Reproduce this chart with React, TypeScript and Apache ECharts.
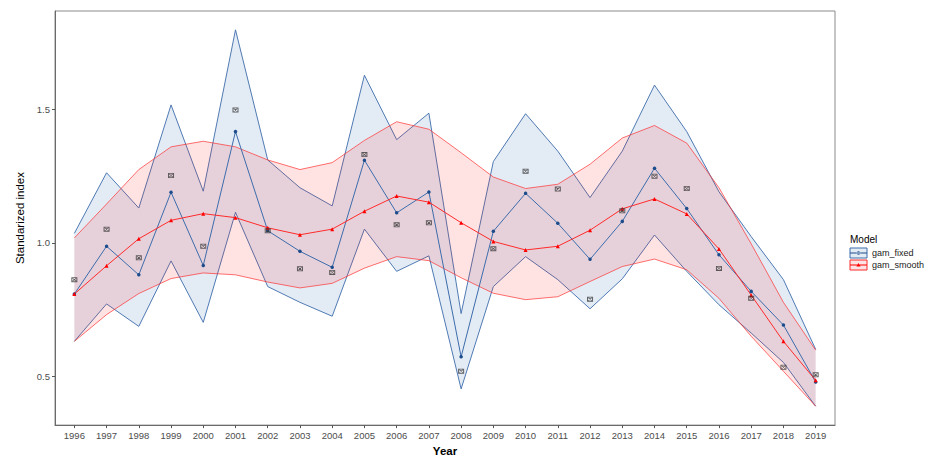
import React, { useEffect, useRef } from "react";
import * as echarts from "echarts";

const years = [1996, 1997, 1998, 1999, 2000, 2001, 2002, 2003, 2004, 2005, 2006, 2007, 2008, 2009, 2010, 2011, 2012, 2013, 2014, 2015, 2016, 2017, 2018, 2019];
const yTicks = [0.5, 1.0, 1.5];

const fixedMean = [0.808, 0.987, 0.880, 1.189, 0.915, 1.416, 1.045, 0.968, 0.908, 1.309, 1.112, 1.190, 0.573, 1.043, 1.185, 1.073, 0.938, 1.080, 1.279, 1.128, 0.955, 0.818, 0.692, 0.479];
const fixedUpper = [1.035, 1.262, 1.130, 1.516, 1.193, 1.797, 1.310, 1.206, 1.138, 1.627, 1.386, 1.485, 0.735, 1.304, 1.483, 1.343, 1.169, 1.343, 1.590, 1.416, 1.191, 1.023, 0.862, 0.601];
const fixedLower = [0.631, 0.771, 0.687, 0.932, 0.702, 1.114, 0.836, 0.777, 0.725, 1.051, 0.893, 0.951, 0.453, 0.836, 0.948, 0.862, 0.753, 0.865, 1.029, 0.893, 0.768, 0.662, 0.552, 0.388];
const smoothMean = [0.808, 0.914, 1.015, 1.084, 1.109, 1.094, 1.056, 1.030, 1.051, 1.118, 1.175, 1.152, 1.075, 1.005, 0.973, 0.987, 1.047, 1.127, 1.164, 1.108, 0.977, 0.804, 0.631, 0.485];
const smoothUpper = [1.018, 1.145, 1.274, 1.359, 1.380, 1.359, 1.310, 1.274, 1.300, 1.383, 1.453, 1.425, 1.337, 1.246, 1.203, 1.219, 1.294, 1.392, 1.439, 1.373, 1.206, 0.996, 0.777, 0.598];
const smoothLower = [0.631, 0.731, 0.810, 0.866, 0.887, 0.880, 0.853, 0.831, 0.848, 0.905, 0.948, 0.933, 0.869, 0.811, 0.787, 0.798, 0.855, 0.911, 0.939, 0.899, 0.792, 0.650, 0.519, 0.388];
const observed = [0.862, 1.051, 0.944, 1.252, 0.987, 1.497, 1.045, 0.903, 0.889, 1.330, 1.067, 1.075, 0.519, 0.978, 1.268, 1.201, 0.789, 1.120, 1.249, 1.203, 0.904, 0.792, 0.534, 0.506];

const BLUE = "#3d6cab";
const BLUE_PT = "#1d4c8c";
const BLUE_FILL = "rgba(70,120,185,0.15)";
const RED = "#ff2a2a";
const RED_FILL = "rgba(255,0,0,0.11)";
const FONT = "Liberation Sans, Arial, sans-serif";

const obsSymbol =
  "path://M0 0H10V10H0Z M1.6 1.6V8.4H8.4V1.6Z M1.6 2.6L2.6 1.6L8.4 7.4L7.4 8.4Z M7.4 1.6L8.4 2.6L2.6 8.4L1.6 7.4Z";
const keyIconCircle =
  "path://M0 0L0.01 0L0 0.01Z M17 10L16.99 10L17 9.99Z M0 4.6H17V5.4H0Z M6.7 5A1.8 1.8 0 1 0 10.3 5A1.8 1.8 0 1 0 6.7 5Z";
const keyIconTri =
  "path://M0 0L0.01 0L0 0.01Z M17 10L16.99 10L17 9.99Z M0 4.6H17V5.4H0Z M8.5 3L10.6 6.6L6.4 6.6Z";

const pairs = (vals: number[]) => years.map((y, i) => [y, vals[i]]);

function ribbon(name: string, upper: number[], lower: number[], stroke: string, fill: string, strokeOpacity: number, z: number) {
  return {
    name,
    type: "custom",
    data: [[years[0], upper[0]]],
    z,
    silent: true,
    renderItem: (_params: any, api: any) => {
      const up = years.map((y, i) => api.coord([y, upper[i]]));
      const lo = years.map((y, i) => api.coord([y, lower[i]]));
      const poly = up.concat(lo.slice().reverse());
      return {
        type: "group",
        children: [
          { type: "polygon", shape: { points: poly }, style: { fill, stroke: "none" } },
          { type: "polyline", shape: { points: up }, style: { fill: "none", stroke, lineWidth: 0.9, opacity: strokeOpacity } },
          { type: "polyline", shape: { points: lo }, style: { fill: "none", stroke, lineWidth: 0.9, opacity: strokeOpacity } },
        ],
      };
    },
  };
}

export default function App() {
  const ref = useRef<HTMLDivElement>(null);
  useEffect(() => {
    if (!ref.current) return;
    const chart = echarts.init(ref.current, undefined, { renderer: "svg" });
    const option: any = {
      animation: false,
      backgroundColor: "#ffffff",
      textStyle: { fontFamily: FONT },
      grid: {
        left: 55,
        right: 100,
        top: 11,
        bottom: 25.5,
        show: true,
        borderColor: "#8a8a8a",
        borderWidth: 1,
        backgroundColor: "transparent",
      },
      xAxis: {
        type: "value",
        min: 1995.4,
        max: 2019.6,
        name: "Year",
        nameLocation: "middle",
        nameGap: 14,
        nameTextStyle: { fontSize: 11.5, fontWeight: "bold", color: "#000", fontFamily: FONT },
        splitLine: { show: false },
        axisLine: { show: true, onZero: false, lineStyle: { color: "#6a6a6a", width: 1 } },
        axisTick: { show: true, customValues: years, length: 3, lineStyle: { color: "#555" } },
        axisLabel: {
          customValues: years,
          fontSize: 9.5,
          color: "#4d4d4d",
          margin: 5,
          fontFamily: FONT,
          formatter: (v: number) => String(Math.round(v)),
        },
      },
      yAxis: {
        type: "value",
        min: 0.3175,
        max: 1.8675,
        name: "Standarized index",
        nameLocation: "middle",
        nameRotate: 90,
        nameGap: 22,
        nameTextStyle: { fontSize: 11.5, color: "#000", fontFamily: FONT },
        splitLine: { show: false },
        axisLine: { show: true, onZero: false, lineStyle: { color: "#6a6a6a", width: 1 } },
        axisTick: { show: true, customValues: yTicks, length: 3, lineStyle: { color: "#555" } },
        axisLabel: {
          customValues: yTicks,
          fontSize: 9.5,
          color: "#4d4d4d",
          margin: 5,
          fontFamily: FONT,
          formatter: (v: number) => v.toFixed(1),
        },
      },
      legend: {
        orient: "vertical",
        left: 850,
        top: 248,
        itemWidth: 17,
        itemHeight: 10,
        itemGap: 2,
        data: [
          { name: "gam_fixed", icon: keyIconCircle },
          { name: "gam_smooth", icon: keyIconTri },
        ],
        textStyle: { fontSize: 9, color: "#222", fontFamily: FONT },
        padding: 0,
      },
      graphic: [
        { type: "text", left: 850, top: 234, style: { text: "Model", fontSize: 10, fill: "#000", fontFamily: FONT } },
        { type: "rect", shape: { x: 850, y: 248, width: 17, height: 10 }, style: { fill: "#e3ebf4", stroke: BLUE, lineWidth: 1 }, z: -1 },
        { type: "rect", shape: { x: 850, y: 260, width: 17, height: 10 }, style: { fill: "#fde3e3", stroke: RED, lineWidth: 1 }, z: -1 },
      ],
      series: [
        ribbon("fixed_ribbon", fixedUpper, fixedLower, BLUE, BLUE_FILL, 1, 1),
        ribbon("smooth_ribbon", smoothUpper, smoothLower, RED, RED_FILL, 0.75, 2),
        {
          name: "gam_fixed",
          type: "line",
          data: pairs(fixedMean),
          symbol: "circle",
          symbolSize: 3.5,
          lineStyle: { color: BLUE, width: 1 },
          itemStyle: { color: BLUE_PT },
          z: 4,
        },
        {
          name: "gam_smooth",
          type: "line",
          data: pairs(smoothMean),
          symbol: "triangle",
          symbolSize: 4,
          lineStyle: { color: RED, width: 1 },
          itemStyle: { color: "#ff0000" },
          z: 4,
        },
        {
          name: "observed",
          type: "scatter",
          data: pairs(observed),
          symbol: obsSymbol,
          symbolSize: [6, 5],
          itemStyle: { color: "#3a3a3a" },
          z: 5,
        },
      ],
    };
    chart.setOption(option);
    return () => chart.dispose();
  }, []);
  return <div ref={ref} style={{ width: 935, height: 462, position: "absolute", left: 0, top: 0 }} />;
}
